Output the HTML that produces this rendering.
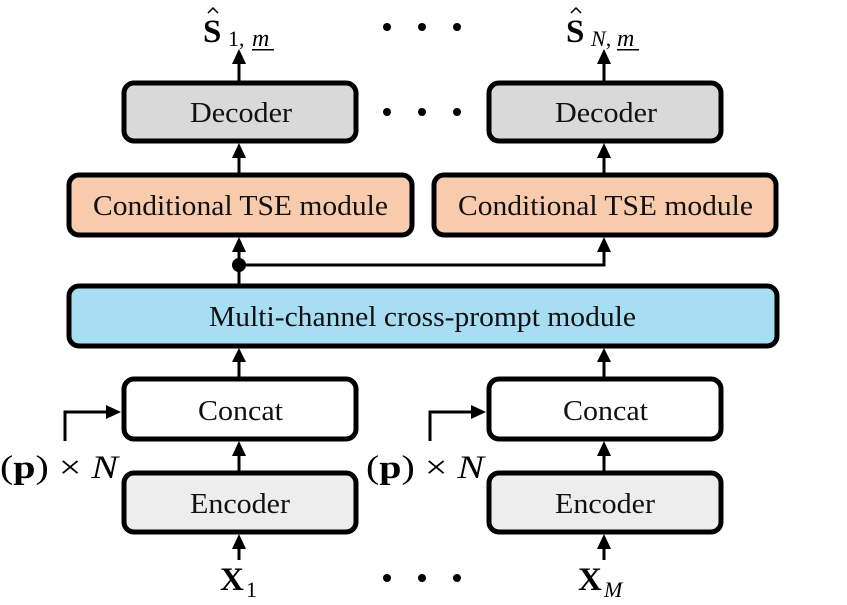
<!DOCTYPE html>
<html><head><meta charset="utf-8"><style>html,body{margin:0;padding:0;background:#fff}svg{font-family:"Liberation Serif",serif}</style></head>
<body>
<svg width="847" height="600" viewBox="0 0 847 600" xmlns="http://www.w3.org/2000/svg">
<g stroke="#000" stroke-width="5">
<rect x="124" y="83" width="232" height="58" rx="10" fill="#d9d9d9"/>
<rect x="489" y="83" width="232" height="58" rx="10" fill="#d9d9d9"/>
<rect x="69" y="175" width="343" height="60" rx="10" fill="#f8cbad"/>
<rect x="434" y="175" width="342" height="60" rx="10" fill="#f8cbad"/>
<rect x="69" y="286" width="708" height="60" rx="10" fill="#a7def3"/>
<rect x="124" y="379" width="232" height="60" rx="10" fill="#fff"/>
<rect x="489" y="379" width="232" height="60" rx="10" fill="#fff"/>
<rect x="124" y="473" width="232" height="59" rx="10" fill="#ededed"/>
<rect x="489" y="473" width="232" height="59" rx="10" fill="#ededed"/>
</g>
<g stroke="#000" stroke-width="3" fill="none">
<line x1="239" y1="81" x2="239" y2="62"/><line x1="604" y1="81" x2="604" y2="62"/>
<line x1="239" y1="173" x2="239" y2="156"/><line x1="604" y1="173" x2="604" y2="156"/>
<line x1="239" y1="284" x2="239" y2="250"/>
<polyline points="239,265 604,265 604,250"/>
<line x1="239" y1="377" x2="239" y2="360"/><line x1="604" y1="377" x2="604" y2="360"/>
<line x1="239" y1="471" x2="239" y2="454"/><line x1="604" y1="471" x2="604" y2="454"/>
<line x1="239" y1="560" x2="239" y2="547"/><line x1="604" y1="560" x2="604" y2="547"/>
<polyline points="65,441 65,412 108,412"/>
<polyline points="430,441 430,412 473,412"/>
</g>
<g stroke="#000" stroke-width="1.5" fill="none">
<polyline points="208,13 213,8 218,13"/>
<polyline points="571,13 576,8 581,13"/>
</g>
<g fill="#000">
<path d="M232,64 L246,64 L239,49Z"/><path d="M597,64 L611,64 L604,49Z"/>
<path d="M232,158 L246,158 L239,143Z"/><path d="M597,158 L611,158 L604,143Z"/>
<path d="M232,252 L246,252 L239,237Z"/><path d="M597,252 L611,252 L604,237Z"/>
<path d="M232,362 L246,362 L239,348Z"/><path d="M597,362 L611,362 L604,348Z"/>
<path d="M232,456 L246,456 L239,441Z"/><path d="M597,456 L611,456 L604,441Z"/>
<path d="M232,549 L246,549 L239,534Z"/><path d="M597,549 L611,549 L604,534Z"/>
<path d="M106,405 L106,419 L121,412Z"/><path d="M471,405 L471,419 L486,412Z"/>
<circle cx="239" cy="265" r="7"/>
<circle cx="387" cy="27" r="4"/><circle cx="422" cy="27" r="4"/><circle cx="457" cy="27" r="4"/>
<circle cx="387" cy="112" r="4"/><circle cx="422" cy="112" r="4"/><circle cx="457" cy="112" r="4"/>
<circle cx="387" cy="578" r="4"/><circle cx="422" cy="578" r="4"/><circle cx="457" cy="578" r="4"/>
</g>
<g font-size="29" fill="#111">
<text x="190" y="122" textLength="102" lengthAdjust="spacingAndGlyphs">Decoder</text>
<text x="555" y="122" textLength="102" lengthAdjust="spacingAndGlyphs">Decoder</text>
<text x="93" y="215" textLength="295" lengthAdjust="spacingAndGlyphs">Conditional TSE module</text>
<text x="458" y="215" textLength="295" lengthAdjust="spacingAndGlyphs">Conditional TSE module</text>
<text x="209" y="326" textLength="427" lengthAdjust="spacingAndGlyphs">Multi-channel cross-prompt module</text>
<text x="198" y="420" textLength="85" lengthAdjust="spacingAndGlyphs">Concat</text>
<text x="563" y="420" textLength="85" lengthAdjust="spacingAndGlyphs">Concat</text>
<text x="190" y="513" textLength="100" lengthAdjust="spacingAndGlyphs">Encoder</text>
<text x="555" y="513" textLength="100" lengthAdjust="spacingAndGlyphs">Encoder</text>
</g>
<g font-size="33" fill="#000">
<text x="0" y="478" textLength="118" lengthAdjust="spacingAndGlyphs">(<tspan font-weight="bold">p</tspan>) × <tspan font-style="italic">N</tspan></text>
<text x="366" y="478" textLength="118" lengthAdjust="spacingAndGlyphs">(<tspan font-weight="bold">p</tspan>) × <tspan font-style="italic">N</tspan></text>
<text x="220" y="590" font-weight="bold">X</text><text x="246" y="597" font-size="22">1</text>
<text x="578" y="590" font-weight="bold">X</text><text x="604" y="597" font-size="22" font-style="italic">M</text>
<text x="203" y="42" font-weight="bold">S</text>
<text x="228" y="46" font-size="22">1,</text><text x="252" y="46" font-size="24" font-style="italic">m</text>
<rect x="252" y="49" width="22" height="1.5"/>
<text x="566" y="42" font-weight="bold">S</text>
<text x="591" y="46" font-size="22"><tspan font-style="italic">N</tspan>,</text><text x="617" y="46" font-size="24" font-style="italic">m</text>
<rect x="617" y="49" width="22" height="1.5"/>
</g>
</svg>
</body></html>
